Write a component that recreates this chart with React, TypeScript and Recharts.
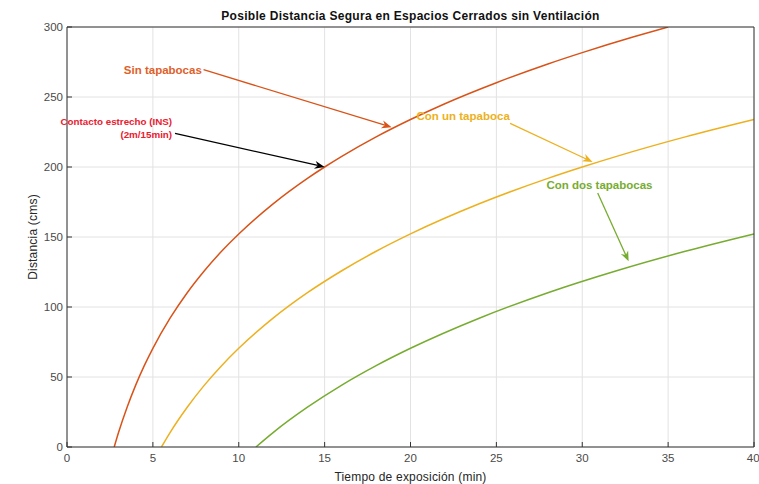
import React from 'react';
import {
  LineChart,
  Line,
  XAxis,
  YAxis,
  CartesianGrid,
  ReferenceLine,
  ReferenceDot,
} from 'recharts';

// tiempo (min) vs distancia (cms)
const sinTapabocas = [
  { t: 2.75, d: 0 }, { t: 3, d: 10.3 }, { t: 3.5, d: 28.4 }, { t: 4, d: 44.2 },
  { t: 4.5, d: 58.1 }, { t: 5, d: 70.5 }, { t: 6, d: 92 }, { t: 7, d: 110.2 },
  { t: 8, d: 125.9 }, { t: 9, d: 139.8 }, { t: 10, d: 152.2 }, { t: 12, d: 173.7 },
  { t: 14, d: 191.9 }, { t: 15, d: 200 }, { t: 16, d: 207.6 }, { t: 18, d: 221.5 },
  { t: 20, d: 233.9 }, { t: 22, d: 245.2 }, { t: 25, d: 260.2 }, { t: 28, d: 273.6 },
  { t: 30, d: 281.7 }, { t: 33, d: 293 }, { t: 35, d: 300 },
];

const conUnTapaboca = [
  { t: 5.5, d: 0 }, { t: 6, d: 10.3 }, { t: 7, d: 28.4 }, { t: 8, d: 44.2 },
  { t: 9, d: 58.1 }, { t: 10, d: 70.5 }, { t: 12, d: 92 }, { t: 14, d: 110.2 },
  { t: 16, d: 125.9 }, { t: 18, d: 139.8 }, { t: 20, d: 152.2 }, { t: 24, d: 173.7 },
  { t: 28, d: 191.9 }, { t: 30, d: 200 }, { t: 32, d: 207.6 }, { t: 36, d: 221.5 },
  { t: 40, d: 233.9 },
];

const conDosTapabocas = [
  { t: 11, d: 0 }, { t: 12, d: 10.3 }, { t: 14, d: 28.4 }, { t: 16, d: 44.2 },
  { t: 18, d: 58.1 }, { t: 20, d: 70.5 }, { t: 24, d: 92 }, { t: 28, d: 110.2 },
  { t: 32, d: 125.9 }, { t: 36, d: 139.8 }, { t: 40, d: 152.2 },
];

const xTicks = [0, 5, 10, 15, 20, 25, 30, 35, 40];
const yTicks = [0, 50, 100, 150, 200, 250, 300];

// annotation: label anchor (first line), arrow tail, arrow head (data coords)
const notes = [
  { lines: ['Sin tapabocas'], at: [7.85, 269.5], anchor: 'end', from: [7.95, 269.5], to: [18.9, 228.4], text: '#E0602A', arrow: '#D95319', size: 11.5 },
  { lines: ['Contacto estrecho (INS)', '(2m/15min)'], at: [6.12, 232.6], anchor: 'end', from: [6.29, 224], to: [15, 200], text: '#E8202F', arrow: '#000000', size: 9.8 },
  { lines: ['Con un tapaboca'], at: [20.35, 236.2], anchor: 'start', from: [25.8, 231.2], to: [30.6, 203.6], text: '#EDB120', arrow: '#EDB120', size: 11.5 },
  { lines: ['Con dos tapabocas'], at: [31, 186.9], anchor: 'middle', from: [30.9, 181.4], to: [32.7, 132.6], text: '#77AC30', arrow: '#77AC30', size: 11.5 },
];

const FONT = '"Liberation Sans", Arial, Helvetica, sans-serif';

const arrowShape = (color: string) => (props: any) => {
  const { x1, y1, x2, y2 } = props;
  const dx = x2 - x1;
  const dy = y2 - y1;
  const len = Math.hypot(dx, dy) || 1;
  const ux = dx / len;
  const uy = dy / len;
  const hl = 10;
  const hw = 4;
  const bx = x2 - ux * hl;
  const by = y2 - uy * hl;
  const nx = -uy;
  const ny = ux;
  const mx = x2 - ux * hl * 0.7;
  const my = y2 - uy * hl * 0.7;
  return (
    <g>
      <line x1={x1} y1={y1} x2={mx} y2={my} stroke={color} strokeWidth={1.3} />
      <polygon
        points={`${x2},${y2} ${bx + nx * hw},${by + ny * hw} ${mx},${my} ${bx - nx * hw},${by - ny * hw}`}
        fill={color}
      />
    </g>
  );
};

const textShape = (lines: string[], color: string, anchor: string, size: number) => (props: any) => {
  const { cx, cy } = props;
  const lh = size * 1.26;
  return (
    <text
      x={cx}
      y={cy}
      textAnchor={anchor as any}
      fill={color}
      fontSize={size}
      fontWeight="bold"
      fontFamily={FONT}
      dominantBaseline="central"
    >
      {lines.map((l, i) => (
        <tspan key={i} x={cx} y={cy + i * lh}>
          {l}
        </tspan>
      ))}
    </text>
  );
};

export default function App() {
  return (
    <div style={{ position: 'absolute', left: 0, top: 0, width: 759, height: 484, background: '#fff', fontFamily: FONT }}>
      <div
        style={{
          position: 'absolute',
          left: 67,
          width: 687,
          top: 8,
          lineHeight: '16px',
          textAlign: 'center',
          fontSize: 12,
          letterSpacing: 0.3,
          fontWeight: 'bold',
          color: '#111',
        }}
      >
        Posible Distancia Segura en Espacios Cerrados sin Ventilación
      </div>
      <LineChart width={759} height={484} margin={{ top: 27, right: 5, bottom: 0, left: 0 }}>
        <CartesianGrid stroke="#e2e2e2" strokeWidth={1} />
        <XAxis
          dataKey="t"
          type="number"
          domain={[0, 40]}
          ticks={xTicks}
          height={37}
          tickSize={-5}
          tickMargin={12}
          stroke="#333"
          tick={{ fill: '#4a4a4a', fontSize: 11.5, fontFamily: FONT }}
          label={{ value: 'Tiempo de exposición (min)', position: 'insideBottom', offset: 3, fill: '#262626', fontSize: 12, letterSpacing: 0.2, fontFamily: FONT }}
        />
        <XAxis xAxisId="top" orientation="top" mirror type="number" domain={[0, 40]} ticks={xTicks} tick={false} tickSize={5} stroke="#333" />
        <YAxis
          type="number"
          domain={[0, 300]}
          ticks={yTicks}
          width={67}
          tickSize={-5}
          tickMargin={9}
          stroke="#333"
          allowDataOverflow
          tick={{ fill: '#4a4a4a', fontSize: 11.5, fontFamily: FONT }}
          label={{ value: 'Distancia (cms)', angle: -90, position: 'center', dx: -1, fill: '#262626', fontSize: 12, letterSpacing: 0.2, fontFamily: FONT }}
        />
        <YAxis yAxisId="right" orientation="right" mirror type="number" domain={[0, 300]} ticks={yTicks} tick={false} tickSize={5} stroke="#333" />
        <Line data={sinTapabocas} dataKey="d" type="monotone" stroke="#D95319" strokeWidth={1.5} dot={false} isAnimationActive={false} />
        <Line data={conUnTapaboca} dataKey="d" type="monotone" stroke="#EDB120" strokeWidth={1.5} dot={false} isAnimationActive={false} />
        <Line data={conDosTapabocas} dataKey="d" type="monotone" stroke="#77AC30" strokeWidth={1.5} dot={false} isAnimationActive={false} />
        {notes.map((n, i) => (
          <ReferenceLine
            key={`a${i}`}
            segment={[{ x: n.from[0], y: n.from[1] }, { x: n.to[0], y: n.to[1] }]}
            shape={arrowShape(n.arrow)}
          />
        ))}
        {notes.map((n, i) => (
          <ReferenceDot
            key={`t${i}`}
            x={n.at[0]}
            y={n.at[1]}
            r={1}
            shape={textShape(n.lines, n.text, n.anchor, n.size)}
          />
        ))}
      </LineChart>
    </div>
  );
}
